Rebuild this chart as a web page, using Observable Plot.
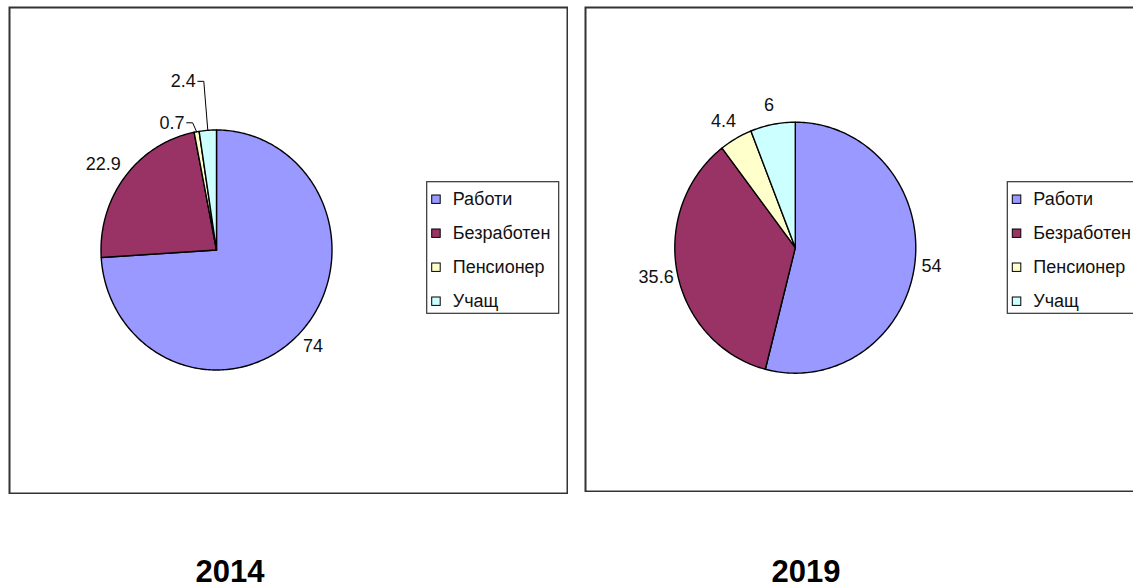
<!DOCTYPE html>
<html><head><meta charset="utf-8">
<script src="https://cdn.jsdelivr.net/npm/d3@7"></script>
<script src="https://cdn.jsdelivr.net/npm/@observablehq/plot@0.6"></script>
<style>
html,body{margin:0;padding:0;background:#fff;}
body{width:1133px;height:588px;overflow:hidden;position:relative;font-family:"Liberation Sans",Arial,sans-serif;}
.panel{position:absolute;}
.panel svg{max-width:none;display:block;}
.year{position:absolute;top:560px;width:200px;margin-left:-100px;text-align:center;font-weight:bold;font-size:31px;line-height:24px;height:24px;color:#000;}
</style></head><body>
<div id="p1" class="panel" style="left:8px;top:6px;width:560px"></div>
<div id="p2" class="panel" style="left:584px;top:6px;width:560px"></div>
<div id="y1" class="year" style="left:230px"></div>
<div id="y2" class="year" style="left:806px"></div>
<script>
const categories = ["Работи", "Безработен", "Пенсионер", "Учащ"];
const colors = ["#9999FF", "#993366", "#FFFFCC", "#CCFFFF"];
const years = ["2014", "2019"];
const values2014 = [74, 22.9, 0.7, 2.4];
const values2019 = [54, 35.6, 4.4, 6];

const FONT = "Liberation Sans, Arial, sans-serif";
const FS = 18;

function textWidth(s) { return s.length * FS * 0.53; }

function piePanel(values, o) {
  const {W, H, cx, cy, rx, ry, lx, ly} = o;
  const arcs = d3.pie().sort(null).value(d => d)(values);
  const slicePts = [];
  arcs.forEach((a, i) => {
    const cat = categories[i];
    const n = Math.max(2, Math.ceil((a.endAngle - a.startAngle) / (Math.PI / 180)));
    slicePts.push({cat, x: cx, y: cy});
    for (let k = 0; k <= n; k++) {
      const t = a.startAngle + (a.endAngle - a.startAngle) * k / n;
      slicePts.push({cat, x: cx + rx * Math.sin(t), y: cy - ry * Math.cos(t)});
    }
    slicePts.push({cat, x: cx, y: cy});
  });
  const labels = arcs.map((a, i) => {
    const m = (a.startAngle + a.endAngle) / 2;
    const dx = Math.sin(m), dy = -Math.cos(m);
    const ex = cx + rx * dx, ey = cy + ry * dy;
    const text = String(values[i]);
    const w = textWidth(text);
    const x = ex + dx * 12 + dx * w * 0.25 + (dy < 0 ? dx * 6 : 0);
    const y = ey + dy * 12 + dy * 8;
    return {i, text, ex, ey, x, y, w, leader: false};
  });
  const overlaps = (p, q) => Math.abs(p.x - q.x) < (p.w + q.w) / 2 && Math.abs(p.y - q.y) < FS;
  const conflicted = labels.filter(p => labels.some(q => q !== p && overlaps(p, q)));
  conflicted.forEach((p, k) => {
    p.leader = true;
    p.x = p.ex - 12;
    p.y = p.ey - 9 - 40 * k;
  });
  const leaderPts = [];
  conflicted.forEach(p => {
    leaderPts.push({i: p.i, x: p.x + 2, y: p.y});
    leaderPts.push({i: p.i, x: p.x + 8, y: p.y});
    leaderPts.push({i: p.i, x: p.ex, y: p.ey});
  });
  const rows = categories.map((c, i) => ({cat: c, y: ly + 17.5 + 34 * i}));

  return Plot.plot({
    width: W, height: H, margin: 0,
    style: {fontFamily: FONT, fontSize: FS + "px", color: "#000", background: "transparent"},
    x: {domain: [0, W], range: [0, W], axis: null},
    y: {domain: [0, H], range: [0, H], axis: null},
    color: {domain: categories, range: colors},
    marks: [
      Plot.frame({stroke: "#333", strokeWidth: 2, inset: 1}),
      Plot.line(slicePts, {x: "x", y: "y", z: "cat", fill: "cat", stroke: "#000", strokeWidth: 1.4, strokeLinejoin: "round", curve: "linear"}),
      Plot.line(leaderPts, {x: "x", y: "y", z: "i", stroke: "#000", strokeWidth: 1}),
      Plot.text(labels.filter(d => !d.leader), {x: "x", y: "y", text: "text", fontSize: FS, fill: "#111", textAnchor: "middle"}),
      Plot.text(labels.filter(d => d.leader), {x: "x", y: "y", text: "text", fontSize: FS, fill: "#111", textAnchor: "end"}),
      Plot.rect([0], {x1: () => lx, x2: () => lx + 132, y1: () => ly, y2: () => ly + 131.6, fill: "white", stroke: "#333", strokeWidth: 1.2}),
      Plot.rect(rows, {x1: () => lx + 5, x2: () => lx + 13.5, y1: d => d.y - 4.2, y2: d => d.y + 4.2, fill: "cat", stroke: "#000", strokeWidth: 1}),
      Plot.text(rows, {x: () => lx + 25.5, y: "y", text: "cat", textAnchor: "start", fontSize: FS, fill: "#111"})
    ]
  });
}

document.getElementById("p1").append(piePanel(values2014, {W: 560, H: 488, cx: 208, cy: 243.5, rx: 115.5, ry: 120, lx: 418.7, ly: 175.7}));
document.getElementById("p2").append(piePanel(values2019, {W: 560, H: 486, cx: 210.8, cy: 241.2, rx: 120.5, ry: 125.5, lx: 423.3, ly: 175.7}));
document.getElementById("y1").textContent = years[0];
document.getElementById("y2").textContent = years[1];
</script>
</body></html>
